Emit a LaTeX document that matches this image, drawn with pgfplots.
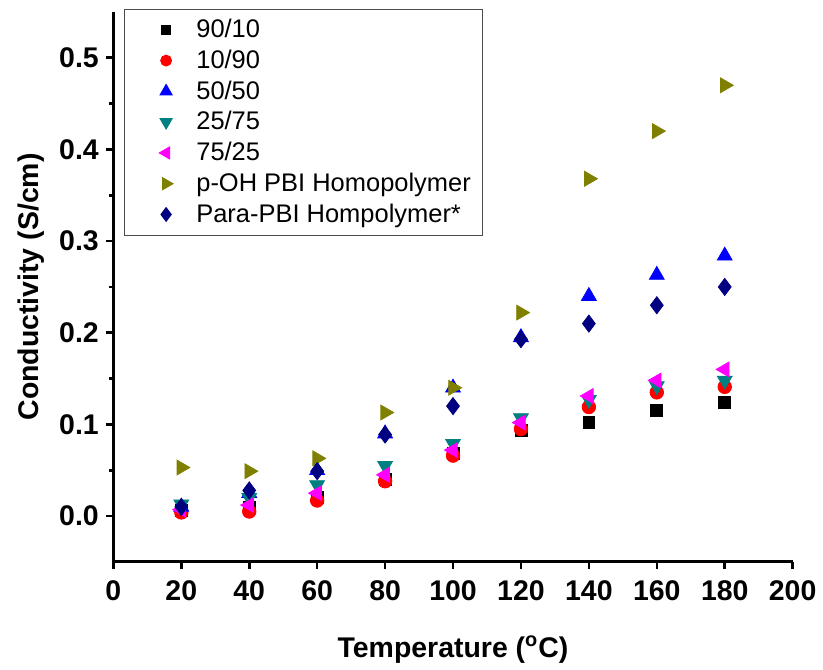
\documentclass[border=0pt]{standalone}
\usepackage{pgfplots}
\pgfplotsset{compat=1.18}
\usepackage{fontspec}
\setmainfont{Liberation Sans}
\definecolor{cteal}{RGB}{0,128,128}
\definecolor{colive}{RGB}{128,128,0}
\definecolor{cnavy}{RGB}{0,0,128}
\definecolor{cmag}{RGB}{255,0,255}
\begin{document}
\begin{tikzpicture}
    \begin{axis}[
        % Size
        scale only axis,
        width  = 341.5pt,
        height = 276.5pt,
        % Axes
        xmin = 0, xmax = 200,
        ymin = -0.05, ymax = 0.55,
        axis lines* = left,
        axis line style = {line width = 1.5pt},
        xtick = {0,20,...,200},
        ytick = {0,0.1,...,0.5},
        minor y tick num = 1,
        tick align = outside,
        major tick length = 3.8pt,
        minor tick length = 2.2pt,
        every tick/.style = {black, line width = 1.3pt},
        % Tick labels
        tick label style = {font = \fontsize{14.3}{16}\selectfont\bfseries},
        xticklabel style = {yshift = -2pt},
        /pgf/number format/assume math mode = true,
        yticklabel style = {/pgf/number format/fixed, /pgf/number format/fixed zerofill, /pgf/number format/precision = 1},
        % Labels
        xlabel = {Temperature (\textsuperscript{o}C)},
        ylabel = {Conductivity (S/cm)},
        label style = {font = \fontsize{14.3}{16}\selectfont\bfseries},
        xlabel style = {yshift = -11pt},
        ylabel style = {yshift = 0.5pt},
        % Legend
        legend cell align = left,
        legend style = {
            at = {(0.016,1.006)}, anchor = north west,
            draw = black!70, line width = 0.5pt,
            font = \fontsize{12.8}{14}\selectfont,
            row sep = 0.7pt,
            inner xsep = 4pt, inner ysep = 3pt,
            /tikz/every even column/.append style = {column sep = 5pt},
        },
        legend image code/.code = {
            \path[draw = none] (0pt,0pt) -- (30pt,0pt);
            \draw[#1, /tikz/every mark/.append style = {scale = 0.8}] plot coordinates {(16.8pt,0pt)};
        },
    ]

        % 90/10
        \addplot[only marks, mark = square*, mark size = 3pt, color = black] coordinates {
            (20,0.006) (40,0.010) (60,0.020) (80,0.040) (100,0.068)
            (120,0.093) (140,0.102) (160,0.115) (180,0.124)
        };
        % 10/90
        \addplot[only marks, mark = *, mark size = 3.4pt, color = red] coordinates {
            (20,0.004) (40,0.005) (60,0.017) (80,0.038) (100,0.066)
            (120,0.095) (140,0.119) (160,0.135) (180,0.141)
        };
        % 50/50
        \addplot[only marks, mark = triangle*, mark size = 4.3pt, color = blue] coordinates {
            (20,0.010) (40,0.025) (60,0.050) (80,0.090) (100,0.140)
            (120,0.195) (140,0.240) (160,0.263) (180,0.284)
        };
        % 25/75
        \addplot[only marks, mark = triangle*, mark options = {rotate = 180}, mark size = 4.3pt, color = cteal] coordinates {
            (20,0.013) (40,0.020) (60,0.034) (80,0.055) (100,0.079)
            (120,0.107) (140,0.127) (160,0.142) (180,0.148)
        };
        % 75/25
        \addplot[only marks, mark = triangle*, mark options = {rotate = 90}, mark size = 4.3pt, color = cmag] coordinates {
            (20,0.007) (40,0.012) (60,0.025) (80,0.045) (100,0.072)
            (120,0.102) (140,0.131) (160,0.148) (180,0.160)
        };
        % p-OH PBI
        \addplot[only marks, mark = triangle*, mark options = {rotate = -90}, mark size = 4.3pt, color = colive] coordinates {
            (20,0.053) (40,0.049) (60,0.063) (80,0.113) (100,0.140)
            (120,0.222) (140,0.368) (160,0.420) (180,0.470)
        };
        % Para-PBI
        \addplot[only marks, mark = diamond*, mark size = 4.3pt, color = cnavy] coordinates {
            (20,0.010) (40,0.028) (60,0.049) (80,0.089) (100,0.120)
            (120,0.193) (140,0.210) (160,0.230) (180,0.250)
        };

        \legend{90/10, 10/90, 50/50, 25/75, 75/25, p-OH PBI Homopolymer, Para-PBI Hompolymer*}
    \end{axis}
    % margins round the axis, as in the reference
    \path ([yshift=6pt]current axis.north);
    \path ([xshift=-57pt]current axis.west);
\end{tikzpicture}
\end{document}
